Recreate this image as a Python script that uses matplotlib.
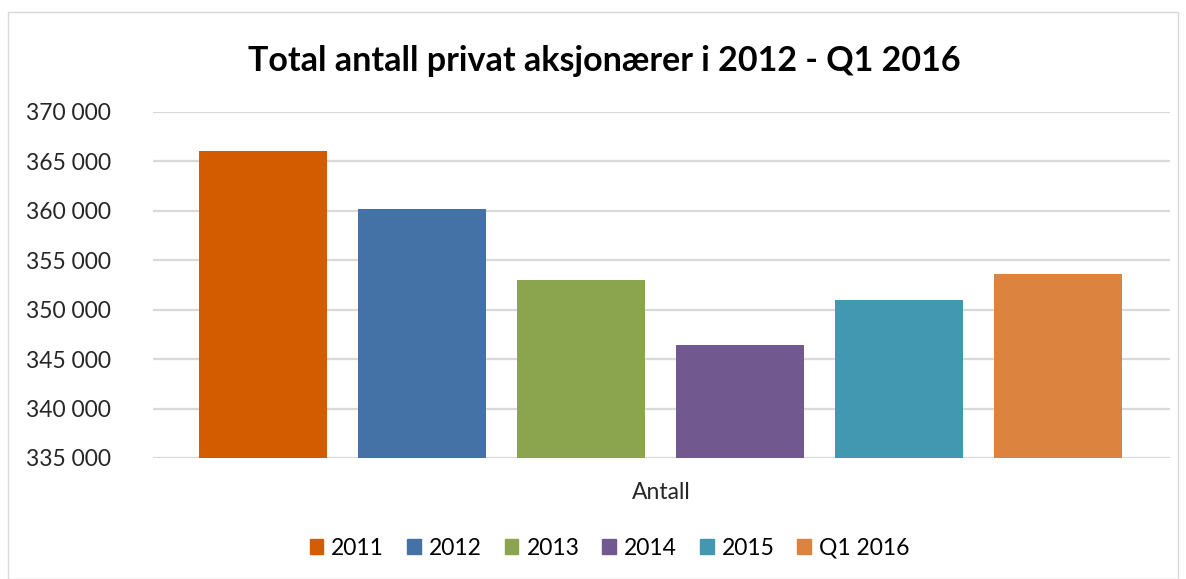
import matplotlib.pyplot as plt
from matplotlib.patches import Rectangle

# data
labels = ['2011', '2012', '2013', '2014', '2015', 'Q1 2016']
values = [366050, 360180, 352990, 346410, 350970, 353600]
colors = ['#d35c00', '#4472a7', '#8aa54d', '#71598f', '#4298b0', '#dd8340']
yticks = [335000, 340000, 345000, 350000, 355000, 360000, 365000, 370000]

plt.rcParams['font.family'] = ['Lato', 'DejaVu Sans']

fig = plt.figure(figsize=(11.86, 5.79), dpi=100)
ax = fig.add_axes([0.129, 0.209, 0.8575, 0.598])

xs = range(len(values))
bars = ax.bar(xs, [v - yticks[0] for v in values], bottom=yticks[0],
              width=0.805, color=colors, label=labels, zorder=3)

ax.set_ylim(yticks[0], yticks[-1])
ax.set_xlim(-0.692, 5.704)
ax.set_yticks(yticks)
ax.set_yticklabels([f"{t:,}".replace(',', ' ') for t in yticks], fontsize=16.5, color='#262626')
ax.set_xticks([])
ax.tick_params(axis='y', length=0, pad=30)
ax.grid(axis='y', color='#d9d9d9', linewidth=1.6, zorder=0)
for s in ax.spines.values():
    s.set_visible(False)

fig.text(0.5575, 0.15, 'Antall', ha='center', va='center', fontsize=16.5, color='#262626')
fig.text(0.5095, 0.895, 'Total antall privat aksjonærer i 2012 - Q1 2016',
         ha='center', va='center', fontsize=24.5, fontweight='bold', color='black')

handles = [Rectangle((0, 0), 1, 1, color=c) for c in colors]
fig.legend(handles, labels, loc='center', bbox_to_anchor=(0.514, 0.053), ncol=6,
           frameon=False, fontsize=16.5, handlelength=0.6, handleheight=0.6,
           handletextpad=0.35, columnspacing=1.0)

fig.add_artist(Rectangle((0.007, 0.0), 0.986, 0.98, transform=fig.transFigure,
                         fill=False, edgecolor='#d9d9d9', linewidth=1))

fig.savefig('out.png', dpi=100)
